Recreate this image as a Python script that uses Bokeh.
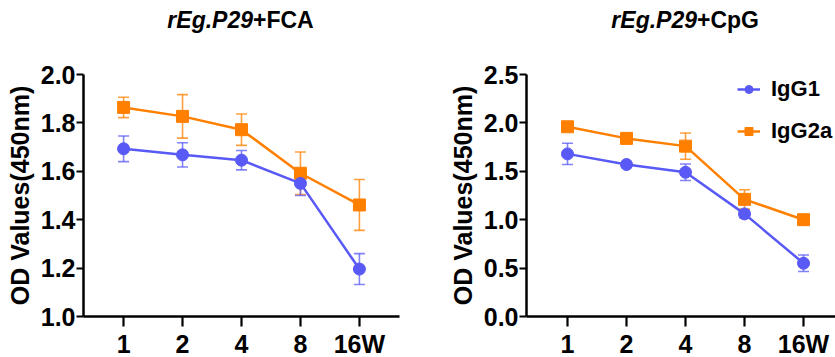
from bokeh.plotting import figure
from bokeh.layouts import row, column
from bokeh.models import (Range1d, ColumnDataSource, Whisker, TeeHead, Div,
                          Legend, LegendItem, FixedTicker, NumeralTickFormatter)
from bokeh.embed import file_html
from bokeh.resources import INLINE

# ---- data ----
weeks = ["1", "2", "4", "8", "16W"]

fca_titles = ("rEg.P29", "+FCA")
fca_igg1 = [1.693, 1.668, 1.646, 1.550, 1.196]
fca_igg1_err = [0.053, 0.050, 0.040, 0.050, 0.064]
fca_igg2a = [1.864, 1.827, 1.772, 1.592, 1.461]
fca_igg2a_err = [0.042, 0.090, 0.065, 0.088, 0.105]
fca_yticks = [1.0, 1.2, 1.4, 1.6, 1.8, 2.0]

cpg_titles = ("rEg.P29", "+CpG")
cpg_igg1 = [1.68, 1.57, 1.49, 1.06, 0.55]
cpg_igg1_err = [0.11, 0.03, 0.085, 0.04, 0.085]
cpg_igg2a = [1.96, 1.84, 1.76, 1.21, 1.00]
cpg_igg2a_err = [0.03, 0.04, 0.135, 0.10, 0.04]
cpg_yticks = [0.0, 0.5, 1.0, 1.5, 2.0, 2.5]

series_names = ["IgG1", "IgG2a"]

BLUE = "#5959F5"
ORANGE = "#FF8000"
FONT = "Liberation Sans"

TITLE_H = 40
FRAME_H = 242


def make_title(titles, width, split):
    html = (
        f'<div style="position:relative;width:{width}px;height:{TITLE_H}px;'
        f'font-family:\'{FONT}\';font-size:23px;line-height:23px;color:black;">'
        f'<span style="position:absolute;top:9px;right:{width - split}px;'
        f'font-weight:bold;font-style:italic;white-space:nowrap;">{titles[0]}</span>'
        f'<span style="position:absolute;top:9px;left:{split}px;'
        f'font-weight:bold;white-space:nowrap;">{titles[1]}</span></div>'
    )
    return Div(text=html, width=width, height=TITLE_H, margin=0)


def make_panel(igg1, igg1_err, igg2a, igg2a_err, yticks, ylabel_fmt,
               xr, yr, fw, min_left, min_right, legend=False):
    p = figure(output_backend="svg", toolbar_location=None,
               frame_width=fw, frame_height=FRAME_H,
               x_range=Range1d(*xr), y_range=Range1d(*yr),
               min_border_left=min_left, min_border_right=min_right,
               min_border_top=74 - TITLE_H, min_border_bottom=41)
    p.outline_line_color = None
    p.xgrid.visible = False
    p.ygrid.visible = False
    p.background_fill_color = "white"
    p.border_fill_color = "white"

    xs = list(range(1, len(weeks) + 1))
    rends = {}
    for name, vals, errs, color, marker in [
            ("IgG2a", igg2a, igg2a_err, ORANGE, "square"),
            ("IgG1", igg1, igg1_err, BLUE, "circle")]:
        src = ColumnDataSource(dict(
            x=xs, y=vals,
            upper=[v + e for v, e in zip(vals, errs)],
            lower=[v - e for v, e in zip(vals, errs)]))
        w = Whisker(source=src, base="x", upper="upper", lower="lower",
                    line_color=color, line_width=1.6, line_alpha=0.75,
                    upper_head=TeeHead(size=11, line_color=color, line_width=1.6, line_alpha=0.75),
                    lower_head=TeeHead(size=11, line_color=color, line_width=1.6, line_alpha=0.75),
                    level="underlay")
        p.add_layout(w)
        ln = p.line("x", "y", source=src, line_color=color, line_width=2.5)
        sc = p.scatter("x", "y", source=src, marker=marker, size=12,
                       fill_color=color, line_color=color)
        rends[name] = [ln, sc]

    for ax in (p.xaxis[0], p.yaxis[0]):
        ax.axis_line_width = 2.5
        ax.axis_line_color = "black"
        ax.major_tick_line_width = 2.2
        ax.major_tick_line_color = "black"
        ax.major_tick_in = 0
        ax.minor_tick_line_color = None
        ax.major_label_text_font = FONT
        ax.major_label_text_font_style = "bold"
        ax.major_label_text_font_size = "25px"
        ax.major_label_text_color = "black"

    p.xaxis.ticker = FixedTicker(ticks=xs)
    p.xaxis.major_label_overrides = {i: lab for i, lab in zip(xs, weeks)}
    p.xaxis.major_tick_out = 10
    p.xaxis.major_label_standoff = 3

    p.yaxis.ticker = FixedTicker(ticks=yticks)
    p.yaxis.formatter = NumeralTickFormatter(format=ylabel_fmt)
    p.yaxis.major_tick_out = 7
    p.yaxis.major_label_standoff = 1
    p.yaxis.axis_label = "OD Values(450nm)"
    p.yaxis.axis_label_text_font = FONT
    p.yaxis.axis_label_text_font_style = "bold"
    p.yaxis.axis_label_text_font_size = "25px"
    p.yaxis.axis_label_text_color = "black"
    p.yaxis.axis_label_standoff = 4

    if legend:
        items = [LegendItem(label=n, renderers=rends[n]) for n in series_names]
        lg = Legend(items=items, location=(211, FRAME_H - 70),
                    glyph_width=23, glyph_height=20, label_height=20,
                    spacing=16, padding=0, margin=0, label_standoff=11,
                    label_text_font=FONT, label_text_font_style="bold",
                    label_text_font_size="22px", label_text_color="black",
                    border_line_color=None, background_fill_alpha=0)
        p.add_layout(lg, "center")
    return p


W1_LEFT, FW1, W1_RIGHT = 83, 316, 30
W1 = W1_LEFT + FW1 + W1_RIGHT
W2_LEFT = 526 - W1
FW2 = 835 - 526

p1 = make_panel(fca_igg1, fca_igg1_err, fca_igg2a, fca_igg2a_err,
                fca_yticks, "0.0", (0.32, 5.68), (1.0, 2.0), FW1, W1_LEFT, W1_RIGHT)
p2 = make_panel(cpg_igg1, cpg_igg1_err, cpg_igg2a, cpg_igg2a_err,
                cpg_yticks, "0.0", (0.305, 5.542), (0.0, 2.5), FW2, W2_LEFT, 0,
                legend=True)

t1 = make_title(fca_titles, W1, 253)
t2 = make_title(cpg_titles, W2_LEFT + FW2, 697 - W1)

layout = column(row(t1, t2, spacing=0), row(p1, p2, spacing=0), spacing=0)
open("out.html", "w").write(file_html(layout, INLINE))
